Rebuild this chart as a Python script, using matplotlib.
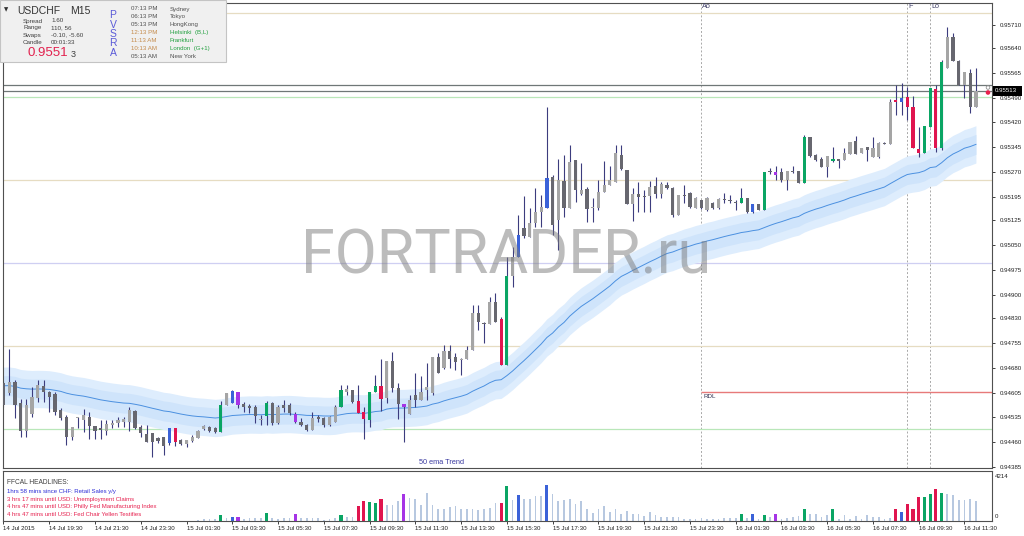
import numpy as np
import matplotlib
matplotlib.use('Agg')
import matplotlib.pyplot as plt
from matplotlib.patches import Rectangle, Circle

plt.rcParams['font.family'] = ['Liberation Sans', 'DejaVu Sans']

# ---------------- data (USDCHF M15, bars from 14 Jul 17:30) ----------------
opens = [0.94636, 0.94606, 0.94639, 0.94576, 0.94492, 0.94543, 0.94591, 0.94627, 0.94609, 0.94603,
         0.94555, 0.94534, 0.94474, 0.94531, 0.94525, 0.94534, 0.94507, 0.94501, 0.94492, 0.94510,
         0.94516, 0.94519, 0.94519, 0.94552, 0.94504, 0.94483, 0.94486, 0.94471, 0.94474, 0.94456,
         0.94501, 0.94465, 0.94453, 0.94462, 0.94471, 0.94498, 0.94504, 0.94501, 0.94489, 0.94570,
         0.94576, 0.94609, 0.94573, 0.94567, 0.94564, 0.94525, 0.94537, 0.94576, 0.94516, 0.94570,
         0.94570, 0.94543, 0.94519, 0.94510, 0.94495, 0.94534, 0.94531, 0.94510, 0.94519, 0.94564,
         0.94609, 0.94615, 0.94582, 0.94549, 0.94525, 0.94609, 0.94627, 0.94591, 0.94702, 0.94621,
         0.94573, 0.94543, 0.94600, 0.94585, 0.94615, 0.94606, 0.94714, 0.94681, 0.94732, 0.94714,
         0.94705, 0.94708, 0.94735, 0.94846, 0.94816, 0.94813, 0.94879, 0.94828, 0.94690, 0.94957,
         0.95014, 0.95101, 0.95074, 0.95116, 0.95149, 0.95161, 0.95254, 0.95125, 0.95242, 0.95161,
         0.95305, 0.95203, 0.95218, 0.95161, 0.95161, 0.95209, 0.95230, 0.95239, 0.95320, 0.95275,
         0.95173, 0.95203, 0.95197, 0.95197, 0.95227, 0.95203, 0.95230, 0.95221, 0.95140, 0.95200,
         0.95206, 0.95161, 0.95185, 0.95155, 0.95176, 0.95161, 0.95188, 0.95185, 0.95179, 0.95176,
         0.95191, 0.95149, 0.95173, 0.95155, 0.95272, 0.95269, 0.95269, 0.95245, 0.95272, 0.95272,
         0.95236, 0.95374, 0.95320, 0.95308, 0.95284, 0.95302, 0.95308, 0.95305, 0.95323, 0.95362,
         0.95326, 0.95344, 0.95314, 0.95314, 0.95356, 0.95353, 0.95485, 0.95479, 0.95494, 0.95464,
         0.95338, 0.95326, 0.95404, 0.95518, 0.95341, 0.95581, 0.95674, 0.95602, 0.95530, 0.95566,
         0.95464]
highs = [0.94642, 0.94738, 0.94645, 0.94588, 0.94588, 0.94624, 0.94645, 0.94645, 0.94612, 0.94609,
         0.94561, 0.94540, 0.94504, 0.94534, 0.94558, 0.94549, 0.94507, 0.94525, 0.94525, 0.94525,
         0.94534, 0.94534, 0.94564, 0.94555, 0.94510, 0.94510, 0.94486, 0.94474, 0.94474, 0.94501,
         0.94501, 0.94468, 0.94465, 0.94480, 0.94495, 0.94510, 0.94507, 0.94504, 0.94582, 0.94606,
         0.94615, 0.94609, 0.94579, 0.94573, 0.94570, 0.94540, 0.94582, 0.94579, 0.94570, 0.94585,
         0.94576, 0.94549, 0.94531, 0.94513, 0.94549, 0.94540, 0.94534, 0.94537, 0.94570, 0.94630,
         0.94630, 0.94615, 0.94630, 0.94564, 0.94609, 0.94660, 0.94708, 0.94702, 0.94729, 0.94636,
         0.94573, 0.94600, 0.94666, 0.94657, 0.94696, 0.94714, 0.94726, 0.94750, 0.94750, 0.94726,
         0.94711, 0.94747, 0.94870, 0.94870, 0.94819, 0.94894, 0.94906, 0.94834, 0.95014, 0.95044,
         0.95140, 0.95197, 0.95161, 0.95221, 0.95200, 0.95464, 0.95260, 0.95308, 0.95320, 0.95350,
         0.95305, 0.95296, 0.95224, 0.95191, 0.95245, 0.95302, 0.95287, 0.95350, 0.95350, 0.95275,
         0.95221, 0.95239, 0.95215, 0.95242, 0.95254, 0.95239, 0.95239, 0.95224, 0.95200, 0.95230,
         0.95209, 0.95194, 0.95185, 0.95194, 0.95179, 0.95191, 0.95206, 0.95200, 0.95185, 0.95221,
         0.95191, 0.95173, 0.95173, 0.95269, 0.95281, 0.95287, 0.95281, 0.95272, 0.95287, 0.95272,
         0.95380, 0.95374, 0.95323, 0.95314, 0.95317, 0.95344, 0.95308, 0.95341, 0.95359, 0.95377,
         0.95341, 0.95344, 0.95374, 0.95359, 0.95359, 0.95488, 0.95530, 0.95536, 0.95524, 0.95497,
         0.95404, 0.95407, 0.95521, 0.95530, 0.95605, 0.95704, 0.95686, 0.95605, 0.95569, 0.95578,
         0.95581]
lows = [0.94564, 0.94600, 0.94531, 0.94474, 0.94474, 0.94534, 0.94579, 0.94579, 0.94549, 0.94540,
        0.94525, 0.94450, 0.94465, 0.94501, 0.94489, 0.94468, 0.94468, 0.94468, 0.94480, 0.94501,
        0.94504, 0.94504, 0.94492, 0.94498, 0.94474, 0.94459, 0.94414, 0.94456, 0.94420, 0.94450,
        0.94447, 0.94450, 0.94444, 0.94459, 0.94471, 0.94495, 0.94489, 0.94486, 0.94489, 0.94570,
        0.94576, 0.94561, 0.94549, 0.94546, 0.94516, 0.94510, 0.94510, 0.94510, 0.94513, 0.94549,
        0.94540, 0.94516, 0.94507, 0.94492, 0.94495, 0.94519, 0.94504, 0.94507, 0.94519, 0.94564,
        0.94600, 0.94576, 0.94546, 0.94468, 0.94504, 0.94609, 0.94552, 0.94576, 0.94609, 0.94528,
        0.94459, 0.94543, 0.94564, 0.94585, 0.94585, 0.94600, 0.94666, 0.94678, 0.94681, 0.94675,
        0.94660, 0.94708, 0.94735, 0.94795, 0.94756, 0.94813, 0.94819, 0.94690, 0.94690, 0.94924,
        0.95014, 0.95071, 0.95074, 0.95104, 0.95104, 0.95161, 0.95080, 0.95035, 0.95134, 0.95161,
        0.95179, 0.95200, 0.95119, 0.95119, 0.95155, 0.95209, 0.95230, 0.95239, 0.95275, 0.95173,
        0.95122, 0.95149, 0.95149, 0.95149, 0.95191, 0.95191, 0.95218, 0.95134, 0.95140, 0.95176,
        0.95161, 0.95161, 0.95158, 0.95152, 0.95158, 0.95158, 0.95176, 0.95176, 0.95155, 0.95176,
        0.95146, 0.95146, 0.95155, 0.95155, 0.95263, 0.95245, 0.95239, 0.95215, 0.95266, 0.95236,
        0.95236, 0.95314, 0.95302, 0.95284, 0.95254, 0.95299, 0.95281, 0.95305, 0.95323, 0.95323,
        0.95326, 0.95302, 0.95314, 0.95311, 0.95353, 0.95353, 0.95440, 0.95440, 0.95425, 0.95341,
        0.95314, 0.95326, 0.95404, 0.95329, 0.95335, 0.95581, 0.95602, 0.95530, 0.95491, 0.95446,
        0.95464]
closes = [0.94570, 0.94639, 0.94570, 0.94492, 0.94570, 0.94594, 0.94630, 0.94609, 0.94594, 0.94549,
          0.94531, 0.94474, 0.94504, 0.94534, 0.94540, 0.94507, 0.94492, 0.94495, 0.94513, 0.94516,
          0.94525, 0.94528, 0.94555, 0.94501, 0.94486, 0.94459, 0.94459, 0.94462, 0.94447, 0.94501,
          0.94459, 0.94453, 0.94465, 0.94474, 0.94492, 0.94507, 0.94492, 0.94489, 0.94570, 0.94606,
          0.94612, 0.94570, 0.94564, 0.94561, 0.94537, 0.94528, 0.94576, 0.94516, 0.94564, 0.94561,
          0.94546, 0.94519, 0.94510, 0.94495, 0.94531, 0.94528, 0.94510, 0.94534, 0.94564, 0.94615,
          0.94618, 0.94579, 0.94546, 0.94528, 0.94609, 0.94627, 0.94588, 0.94702, 0.94621, 0.94573,
          0.94564, 0.94585, 0.94585, 0.94609, 0.94624, 0.94714, 0.94666, 0.94732, 0.94708, 0.94699,
          0.94708, 0.94735, 0.94846, 0.94819, 0.94813, 0.94879, 0.94819, 0.94690, 0.94957, 0.95014,
          0.95080, 0.95077, 0.95116, 0.95149, 0.95164, 0.95251, 0.95110, 0.95245, 0.95161, 0.95299,
          0.95215, 0.95215, 0.95158, 0.95164, 0.95209, 0.95230, 0.95245, 0.95326, 0.95278, 0.95173,
          0.95203, 0.95194, 0.95194, 0.95224, 0.95203, 0.95233, 0.95221, 0.95140, 0.95200, 0.95197,
          0.95164, 0.95191, 0.95161, 0.95191, 0.95161, 0.95188, 0.95185, 0.95182, 0.95176, 0.95191,
          0.95149, 0.95173, 0.95155, 0.95269, 0.95269, 0.95260, 0.95245, 0.95272, 0.95269, 0.95236,
          0.95374, 0.95317, 0.95305, 0.95284, 0.95317, 0.95308, 0.95302, 0.95326, 0.95359, 0.95323,
          0.95341, 0.95335, 0.95341, 0.95356, 0.95353, 0.95479, 0.95479, 0.95491, 0.95464, 0.95341,
          0.95326, 0.95407, 0.95521, 0.95341, 0.95599, 0.95674, 0.95602, 0.95530, 0.95569, 0.95464,
          0.95513]

# PVSRA highlighted bars
green_bars = [38, 46, 59, 64, 65, 88, 129, 133, 140, 145, 161, 162, 164]
red_bars = [30, 62, 63, 66, 87, 156, 158, 159, 160, 163]
blue_bars = [29, 40, 90, 95, 131, 157]
purple_bars = [41, 51, 70, 135]

volume_first_bar = 34
volumes = [90, 140, 140, 170, 480, 225,
           365, 365, 170, 225, 280, 280, 645, 280, 170, 225,
           225, 590, 225, 225, 280, 225, 85, 170, 280, 535,
           340, 340, 1280, 1660, 1600, 1520, 1880, 1385, 1385, 1720,
           2270, 1940, 1880, 1385, 2355, 1385, 1050, 1050, 1160, 1245,
           970, 1025, 970, 885, 1025, 1110, 1520, 1520, 2910, 1800,
           2215, 1855, 1855, 2130, 2130, 3045, 2300, 1660, 1800, 1880,
           1470, 1660, 1025, 690, 1025, 1245, 750, 970, 555, 830,
           555, 555, 415, 750, 470, 330, 330, 360, 360, 140,
           195, 195, 220, 140, 140, 195, 275, 275, 220, 555,
           275, 555, 195, 470, 360, 610, 195, 220, 330, 415,
           1025, 555, 610, 360, 470, 1025, 195, 470, 195, 415,
           195, 470, 360, 330, 195, 275, 1030, 760, 1420, 975,
           2000, 2000, 2260, 2680, 2340, 2270, 2230, 1810, 1730, 1840,
           1690]
volume_max_label = 4214

ema_period = 50
ema_seed = 0.94630

tick_bars = [0, 8, 16, 24, 32, 40, 48, 56, 64, 72, 80, 88, 96, 104, 112, 120, 128, 136, 144, 152, 160, 168]
tick_labels = ['14 Jul 2015', '14 Jul 19:30', '14 Jul 21:30', '14 Jul 23:30', '15 Jul 01:30',
               '15 Jul 03:30', '15 Jul 05:30', '15 Jul 07:30', '15 Jul 09:30', '15 Jul 11:30',
               '15 Jul 13:30', '15 Jul 15:30', '15 Jul 17:30', '15 Jul 19:30', '15 Jul 21:30',
               '15 Jul 23:30', '16 Jul 01:30', '16 Jul 03:30', '16 Jul 05:30', '16 Jul 07:30',
               '16 Jul 09:30', '16 Jul 11:30']
price_ticks = [0.95710, 0.95640, 0.95565, 0.95490, 0.95420, 0.95345, 0.95270, 0.95195, 0.95125,
               0.95050, 0.94975, 0.94900, 0.94830, 0.94755, 0.94680, 0.94605, 0.94535, 0.94460, 0.94385]

level_prices = [0.95746, 0.95245, 0.94747, 0.94996, 0.95494, 0.94498, 0.95529, 0.95513]
level_colors = ['#e6dcc2', '#e6dcc2', '#e6dcc2', '#cfcff2', '#b9e7b9', '#b9e7b9', '#6f7777', '#6f7777']
rdl_price = 0.94608
rdl_bar = 122
session_bars = [122, 158, 162]
session_labels = ['Ao', 'F', 'Lo']
bid_price = 0.95513

# ---------------- figure ----------------
W, H = 1024, 536
fig = plt.figure(figsize=(W / 100, H / 100), dpi=100)
fig.patch.set_facecolor('white')


def fa(x0, y0, x1, y1):
    return [x0 / W, 1 - y1 / H, (x1 - x0) / W, (y1 - y0) / H]


ax = fig.add_axes(fa(3, 3, 992, 468))
axv = fig.add_axes(fa(3, 471, 992, 521))

n = len(closes)
x = np.arange(n)
o = np.array(opens); h = np.array(highs); l = np.array(lows); c = np.array(closes)

# EMA ribbon
k = 2.0 / (ema_period + 1)
ema = []
e = ema_seed
for v in c:
    e = e + k * (v - e)
    ema.append(e)
ema = np.array(ema)
ax.fill_between(x, ema - 0.00056, ema + 0.00056, color='#deedfd', lw=0, zorder=1)
ax.fill_between(x, ema - 0.00030, ema + 0.00030, color='#cfe4fb', lw=0, zorder=1.1)
ax.plot(x, ema, color='#4b90e0', lw=0.7, zorder=1.2)

# level lines
for p, col in zip(level_prices, level_colors):
    ax.axhline(p, color=col, lw=0.9, zorder=0.8)
ax.hlines(rdl_price, rdl_bar, 180, color='#e77a7a', lw=1.0, zorder=0.8)
for b in session_bars:
    ax.axvline(b, color='#a8a8a8', lw=0.7, ls=(0, (2, 2)), zorder=0.7)

# candles
colors = []
for i in range(n):
    if i in green_bars:
        colors.append('#0aa564')
    elif i in red_bars:
        colors.append('#e0154f')
    elif i in blue_bars:
        colors.append('#3b62d8')
    elif i in purple_bars:
        colors.append('#a534e6')
    elif c[i] >= o[i]:
        colors.append('#a5a5a5')
    else:
        colors.append('#67676f')
ax.vlines(x, l, h, colors='#3c3c7e', lw=0.8, zorder=2.5)
body_bottom = np.minimum(o, c)
body_h = np.maximum(np.abs(c - o), 0.000035)
ax.bar(x, body_h, bottom=body_bottom, width=0.56, color=colors, lw=0, zorder=3)

ax.set_xlim(-0.087, 172.81)
ax.set_ylim(0.94381, 0.95776)
ax.yaxis.tick_right()
ax.set_yticks(price_ticks)
ax.set_yticklabels(['%.5f' % p for p in price_ticks])
ax.tick_params(axis='y', length=2.5, width=0.6, pad=3, labelsize=4.4, colors='#202020')
ax.set_xticks([])
for s in ax.spines.values():
    s.set_color('#505050'); s.set_linewidth(0.8)

# volume panel
vx = np.arange(volume_first_bar, volume_first_bar + len(volumes))
vcol = []
vw = []
for i in vx:
    if i in green_bars:
        vcol.append('#0aa564'); vw.append(0.55)
    elif i in red_bars:
        vcol.append('#e0154f'); vw.append(0.55)
    elif i in blue_bars:
        vcol.append('#3b62d8'); vw.append(0.55)
    elif i in purple_bars:
        vcol.append('#a534e6'); vw.append(0.55)
    else:
        vcol.append('#b7c8e0'); vw.append(0.3)
axv.bar(vx, volumes, width=vw, color=vcol, lw=0)
axv.set_xlim(-0.087, 172.81)
axv.set_ylim(0, volume_max_label)
axv.set_yticks([])
axv.set_xticks(tick_bars)
axv.set_xticklabels(tick_labels, ha='left')
axv.tick_params(axis='x', length=2.5, width=0.6, pad=1.2, labelsize=4.4, colors='#202020')
for s in axv.spines.values():
    s.set_color('#505050'); s.set_linewidth(0.8)

# ---------------- overlay (pixel coordinates) ----------------
ov = fig.add_axes([0, 0, 1, 1], zorder=10)
ov.set_xlim(0, W); ov.set_ylim(H, 0); ov.axis('off'); ov.patch.set_alpha(0)

# watermark
ov.text(506, 257, 'FORTRADER.ru', fontsize=44, family='Roboto', color='#7a7a7a', alpha=0.5,
        ha='center', va='center')

# info panel
ov.add_patch(Rectangle((0, 0), 226, 62, facecolor='#f0f0f0', edgecolor='#c4c4c4', lw=0.8))
ov.text(6, 10, '\u25bc', fontsize=4, family='DejaVu Sans', color='#303030', ha='center', va='center')
ov.text(17, 11, 'USDCHF', fontsize=7.5, color='#333333', va='center')
ov.text(70, 11, 'M15', fontsize=7.5, color='#333333', va='center')
info_rows = [('Spread', '1.60'), ('Range', '110, 56'), ('Swaps', '-0.10, -5.60'), ('Candle', '00:01:33')]
for j, (a, b) in enumerate(info_rows):
    ov.text(23, 21 + 7 * j, a, fontsize=4.5, color='#404040', va='center')
    ov.text(51, 21 + 7 * j, b, fontsize=4.5, color='#404040', va='center')
ov.text(27, 53.5, '0.9551', fontsize=9.5, color='#e2214e', va='center')
ov.text(71, 54.5, '3', fontsize=6.5, color='#404040', va='center')
for j, ch in enumerate('PVSRA'):
    ov.text(113, 15 + 9.5 * j, ch, fontsize=7.5, color='#5a5ad8', ha='center', va='center')
times = ['07:13 PM', '06:13 PM', '05:13 PM', '12:13 PM', '11:13 AM', '10:13 AM', '05:13 AM']
cities = ['Sydney', 'Tokyo', 'HongKong', 'Helsinki  (B,L)', 'Frankfurt', 'London  (G+1)', 'New York']
open_mkt = [False, False, False, True, True, True, False]
for j, (t, cty, op) in enumerate(zip(times, cities, open_mkt)):
    yy = 9 + 7.9 * j
    ov.text(131, yy, t, fontsize=4.4, color='#c48a4a' if op else '#505050', va='center')
    ov.text(170, yy, cty, fontsize=4.4, color='#22a040' if op else '#505050', va='center')

# headlines
ov.text(7, 482, 'FFCAL HEADLINES:', fontsize=4.8, color='#404040', va='center')
heads = ['1hrs 58 mins since CHF: Retail Sales y/y', '3 hrs 17 mins until USD: Unemployment Claims',
         '4 hrs 47 mins until USD: Philly Fed Manufacturing Index',
         '4 hrs 47 mins until USD: Fed Chair Yellen Testifies']
hcol = ['#2b2bd6', '#e6204e', '#e6204e', '#e6204e']
for j, (t, col) in enumerate(zip(heads, hcol)):
    ov.text(7, 491.5 + 7.6 * j, t, fontsize=4.3, color=col, va='center')

ov.text(419, 462, '50 ema Trend', fontsize=5.3, color='#3a3aa0', va='center')
ov.text(703, 396, 'RDL', fontsize=4.5, color='#303050', va='center')
for b, lab in zip(session_bars, session_labels):
    ov.text(3.5 + 5.72 * b + 1, 7, lab, fontsize=5.2, color='#404068', va='center')

# current price marker
ov.add_patch(Rectangle((993, 86), 29, 10, facecolor='black', edgecolor='none'))
ov.text(995, 91, '%.5f' % bid_price, fontsize=4.4, color='white', va='center')
ov.add_patch(Circle((988, 92.5), 2.3, facecolor='#e8204c', edgecolor='none'))
ov.add_patch(Circle((988, 87.5), 1.8, facecolor='none', edgecolor='#909090', lw=0.6))
ov.text(995, 476, str(volume_max_label), fontsize=4.4, color='#202020', va='center')
ov.text(995, 517, '0', fontsize=4.4, color='#202020', va='center')

fig.savefig('out.png', dpi=100, facecolor='white')
